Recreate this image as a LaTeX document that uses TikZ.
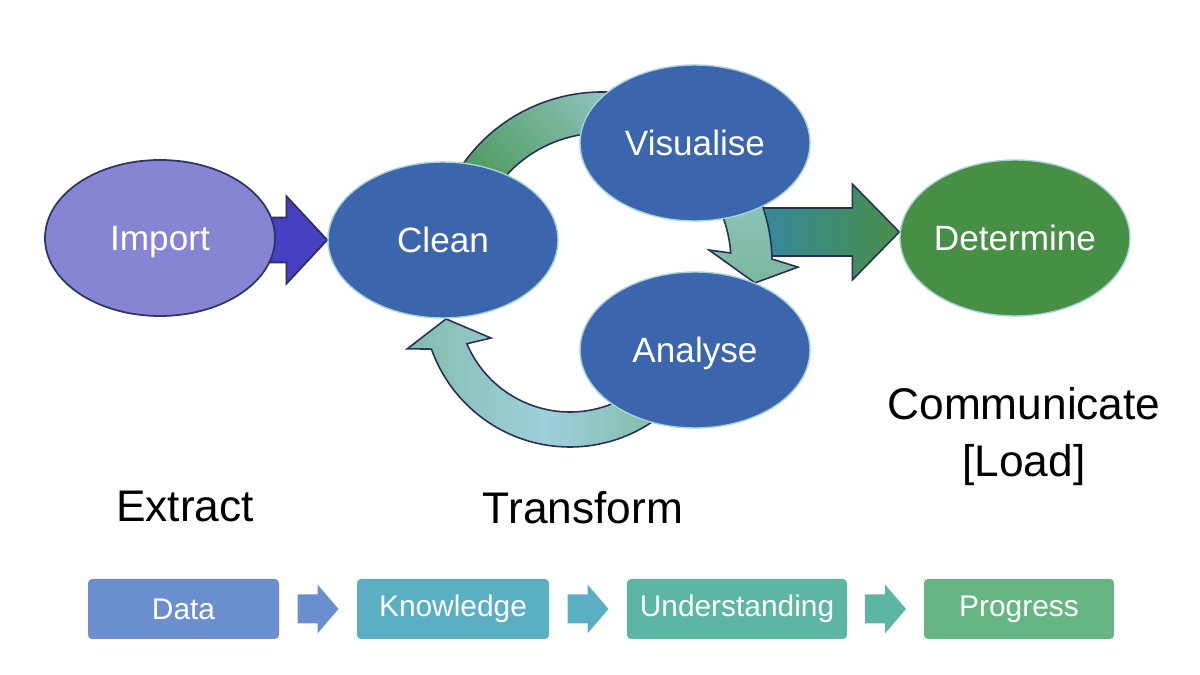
\documentclass[tikz,border=0pt]{standalone}
\usepackage{fontspec}
\setmainfont{Liberation Sans}
\usepackage{tikz}
\usetikzlibrary{shapes.geometric}
\usetikzlibrary{backgrounds}
\usetikzlibrary{calc}
\definecolor{importfill}{HTML}{8884D4}
\definecolor{importline}{HTML}{2E3566}
\definecolor{stageblue}{HTML}{3B66AE}
\definecolor{stagegreen}{HTML}{468F45}
\definecolor{rimteal}{HTML}{A6D3D6}
\definecolor{arrowline}{HTML}{2B2F55}
\definecolor{importarrow}{HTML}{4740C0}
\definecolor{outteal}{HTML}{35889E}
\definecolor{outgreen}{HTML}{488E48}
\definecolor{loopgreen}{HTML}{539C63}
\definecolor{looplight}{HTML}{9DCFD5}
\definecolor{loopmint}{HTML}{7BB89D}
\definecolor{loopsky}{HTML}{9ECFDD}
\definecolor{datac}{HTML}{6B8FCE}
\definecolor{knowc}{HTML}{5BAFC3}
\definecolor{underc}{HTML}{5DB5A3}
\definecolor{progc}{HTML}{67B585}
\tikzstyle{stage}=[ellipse, minimum width=2.3cm, minimum height=1.56cm, inner sep=0pt, text depth=0pt, text=white, font=\fontsize{10}{12}\selectfont]
\tikzstyle{bluestage}=[stage, fill=stageblue, draw=rimteal, line width=0.4pt]
\tikzstyle{phase}=[font=\fontsize{12.6}{16.2}\selectfont, align=center]
\tikzstyle{levelbox}=[rounded corners=0.04cm, minimum height=0.6cm, inner sep=0pt, text=white, font=\fontsize{8.5}{10}\selectfont]
\tikzstyle{shell}=[draw=arrowline, line width=0.45pt, line join=miter]
\newcommand{\levelarrow}[3]{%
\coordinate (lvlmid) at ($(#1.east)!0.5!(#2.west)$);
\fill[#3] ($(lvlmid)+(-0.205,0.145)$) -- ++(0.2,0) -- ++(0,0.1) -- ++(0.21,-0.245) -- ++(-0.21,-0.245) -- ++(0,0.1) -- ++(-0.2,0) -- cycle;}

\begin{document}
\begin{tikzpicture}
\useasboundingbox (0,0) rectangle (12,6.75);
\coordinate (loopc) at (6.02,4.13);
\coordinate (backc) at (5.70,3.75);
\node[stage, fill=importfill, draw=importline, line width=0.5pt] (import) at (1.60,4.37) {Import};
\node[bluestage] (clean) at (4.43,4.35) {Clean};
\node[bluestage] (visualise) at (6.95,5.32) {Visualise};
\node[bluestage] (analyse) at (6.95,3.25) {Analyse};
\node[stage, fill=stagegreen, draw=rimteal, line width=0.4pt] (determine) at (10.15,4.37) {Determine};
\begin{scope}[on background layer]
\draw[shell, fill=importarrow] (clean.west) -- ++(-0.41,-0.44) -- ++(0,0.215) -- ++(-0.17,0) -- ++(0,0.45) -- ++(0.17,0) -- ++(0,0.215) -- cycle;
\coordinate (dtip) at ($(determine.west)+(0,0.06)$);
\draw[shell, left color=outteal, right color=outgreen] (dtip) -- ++(-0.47,-0.48) -- ++(0,0.24) -- ++(-0.93,0) -- ++(0,0.48) -- ++(0.93,0) -- ++(0,0.24) -- cycle;
\draw[shell, top color=loopgreen, bottom color=looplight, shading angle=135] ($(loopc)+(150:1.70)$) arc[start angle=150, end angle=60, radius=1.70] -- ($(loopc)+(60:1.29)$) arc[start angle=60, end angle=150, radius=1.29] -- cycle;
\draw[shell, top color=looplight, bottom color=loopmint] ($(loopc)+(60:1.70)$) arc[start angle=60, end angle=1, radius=1.70] -- ($(loopc)+(-1.5:1.96)$) -- ($(loopc)+(-7.8:1.544)$) -- ($(loopc)+(6.4:1.077)$) -- ($(loopc)+(4:1.29)$) arc[start angle=4, end angle=60, radius=1.29] -- cycle;
\draw[shell, left color=loopmint!80!loopsky, right color=loopmint, middle color=loopsky] ($(backc)+(320:1.47)$) arc[start angle=320, end angle=199.5, radius=1.47] -- ($(backc)+(196.7:1.70)$) -- ($(backc)+(188.7:1.254)$) -- ($(backc)+(205.7:0.877)$) -- ($(backc)+(203:1.12)$) arc[start angle=203, end angle=320, radius=1.12] -- cycle;
\end{scope}
\node[phase] (extract) at (1.85,1.69) {Extract};
\node[phase] (transform) at (5.83,1.67) {Transform};
\node[phase] (communicate) at (10.24,2.38) {Communicate\\{[Load]}};
\node[levelbox, fill=datac, minimum width=1.91cm] (data) at (1.835,0.66) {Data};
\node[levelbox, fill=knowc, minimum width=1.92cm] (knowledge) at (4.53,0.66) {Knowledge};
\node[levelbox, fill=underc, minimum width=2.2cm] (understanding) at (7.37,0.66) {Understanding};
\node[levelbox, fill=progc, minimum width=1.9cm] (progress) at (10.19,0.66) {Progress};
\levelarrow{data}{knowledge}{datac}
\levelarrow{knowledge}{understanding}{knowc}
\levelarrow{understanding}{progress}{underc}
\end{tikzpicture}
\end{document}
